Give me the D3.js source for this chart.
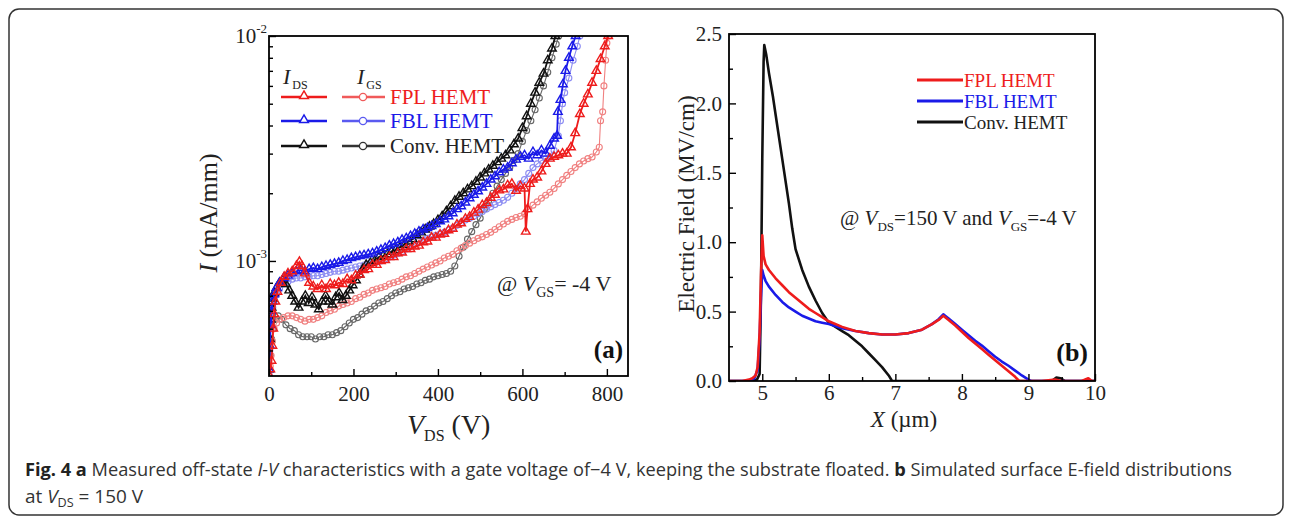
<!DOCTYPE html>
<html>
<head>
<meta charset="utf-8">
<script src="https://cdn.jsdelivr.net/npm/d3@7"></script>
<style>
  body { margin: 0; background: #fff; }
  text { font-family: "Liberation Serif", "Times New Roman", serif; }
</style>
</head>
<body>
<script>
// ---- panel (a): off-state I-V, [V_DS (V), I (x1e-3 mA/mm)] ----
var idsFPL = [[0,0.31],[3,0.33],[6,0.36],[8,0.42],[10,0.5],[12,0.58],[15,0.66],[20,0.73],[28,0.8],[36,0.85],[45,0.88],[55,0.9],[65,0.95],[72,0.99],[78,0.95],[85,0.88],[95,0.8],[105,0.77],[115,0.75],[125,0.78],[135,0.75],[145,0.79],[155,0.78],[165,0.8],[175,0.79],[185,0.83],[195,0.82],[205,0.86],[215,0.87],[225,0.91],[235,0.92],[245,0.96],[255,0.96],[265,1.0],[275,1.01],[285,1.04],[295,1.04],[305,1.08],[315,1.09],[325,1.13],[335,1.13],[345,1.16],[355,1.17],[365,1.21],[375,1.22],[385,1.27],[395,1.27],[405,1.31],[415,1.32],[425,1.37],[435,1.39],[445,1.45],[455,1.47],[465,1.54],[475,1.57],[485,1.64],[495,1.69],[505,1.77],[515,1.81],[525,1.91],[535,1.97],[545,2.06],[555,2.08],[565,2.17],[575,2.2],[585,2.05],[595,2.15],[605,2.1],[608,1.35],[612,1.7],[618,2.2],[625,2.3],[635,2.35],[645,2.5],[655,2.7],[665,2.85],[675,2.9],[685,2.95],[695,3.0],[705,3.0],[715,3.2],[725,3.7],[736,4.5],[745,5.0],[755,5.5],[765,6.2],[775,7.0],[785,7.9],[795,9.0],[803,10]];
var idsFBL = [[0,0.33],[2,0.42],[4,0.52],[6,0.6],[8,0.66],[12,0.71],[18,0.76],[25,0.8],[35,0.84],[45,0.86],[55,0.88],[65,0.9],[75,0.91],[85,0.9],[95,0.92],[105,0.93],[115,0.92],[125,0.94],[135,0.95],[145,0.96],[155,0.97],[165,0.98],[175,1.0],[185,1.01],[195,1.03],[205,1.04],[215,1.05],[225,1.06],[235,1.07],[245,1.08],[255,1.1],[265,1.12],[275,1.14],[285,1.17],[295,1.19],[305,1.21],[315,1.24],[325,1.26],[335,1.29],[345,1.32],[355,1.35],[365,1.38],[375,1.4],[385,1.43],[395,1.46],[405,1.5],[415,1.53],[425,1.58],[435,1.63],[445,1.7],[455,1.75],[465,1.82],[475,1.9],[485,1.97],[495,2.04],[505,2.12],[515,2.2],[525,2.3],[535,2.38],[545,2.48],[555,2.55],[565,2.6],[575,2.72],[585,2.82],[595,2.9],[605,2.95],[615,2.85],[625,3.05],[635,2.95],[645,3.1],[655,3.0],[665,3.25],[675,3.5],[682,3.6],[684,4.6],[690,5.2],[696,6.1],[702,7.0],[710,8.0],[718,9.0],[726,10]];
var idsConv = [[0,0.33],[2,0.45],[4,0.55],[6,0.62],[8,0.68],[12,0.72],[18,0.76],[25,0.8],[32,0.82],[40,0.79],[48,0.74],[55,0.7],[62,0.66],[70,0.62],[78,0.66],[86,0.7],[94,0.65],[102,0.69],[110,0.64],[118,0.61],[126,0.66],[134,0.7],[142,0.66],[150,0.64],[158,0.69],[166,0.72],[174,0.67],[182,0.7],[190,0.74],[198,0.78],[206,0.82],[214,0.87],[222,0.92],[230,0.96],[240,0.98],[250,1.0],[260,1.04],[270,1.05],[280,1.07],[290,1.1],[300,1.12],[310,1.15],[320,1.18],[330,1.22],[340,1.25],[350,1.3],[360,1.34],[370,1.38],[380,1.42],[390,1.46],[400,1.52],[410,1.58],[420,1.66],[430,1.75],[440,1.85],[450,1.93],[460,2.0],[470,2.08],[480,2.15],[490,2.25],[500,2.35],[510,2.45],[520,2.55],[530,2.65],[540,2.75],[550,2.85],[560,2.95],[570,3.1],[580,3.3],[590,3.5],[600,3.9],[610,4.4],[620,5.0],[630,5.6],[640,6.2],[650,6.8],[660,7.8],[670,8.8],[678,10]];
var igsFPL = [[0,0.31],[3,0.34],[5,0.38],[8,0.44],[12,0.5],[18,0.53],[25,0.55],[35,0.56],[45,0.57],[55,0.57],[65,0.56],[75,0.55],[85,0.54],[95,0.55],[105,0.55],[115,0.56],[125,0.57],[135,0.59],[145,0.6],[155,0.61],[165,0.63],[175,0.64],[185,0.65],[195,0.66],[205,0.68],[215,0.69],[225,0.71],[235,0.72],[245,0.74],[255,0.75],[265,0.76],[275,0.77],[285,0.79],[295,0.8],[305,0.81],[315,0.83],[325,0.85],[335,0.86],[345,0.88],[355,0.9],[365,0.92],[375,0.94],[385,0.96],[395,0.98],[405,1.0],[415,1.03],[425,1.05],[435,1.07],[445,1.11],[455,1.14],[465,1.17],[475,1.2],[485,1.23],[495,1.26],[505,1.28],[515,1.31],[525,1.34],[535,1.38],[545,1.42],[555,1.46],[565,1.5],[575,1.53],[585,1.56],[595,1.58],[605,1.62],[615,1.7],[625,1.77],[635,1.83],[645,1.9],[655,1.96],[665,2.02],[675,2.1],[685,2.2],[695,2.3],[705,2.4],[715,2.5],[725,2.6],[735,2.7],[745,2.78],[755,2.85],[765,2.9],[775,3.05],[782,3.2],[785,4.2],[790,4.6],[793,6.0],[797,7.8],[800,9.3],[805,10]];
var igsFBL = [[0,0.31],[2,0.4],[4,0.5],[6,0.56],[9,0.62],[13,0.67],[18,0.71],[25,0.75],[35,0.79],[45,0.81],[55,0.83],[65,0.84],[75,0.84],[85,0.85],[95,0.85],[105,0.86],[115,0.86],[125,0.87],[135,0.88],[145,0.89],[155,0.9],[165,0.9],[175,0.91],[185,0.92],[195,0.93],[205,0.94],[215,0.95],[225,0.96],[235,0.97],[245,0.98],[255,0.99],[265,1.0],[275,1.02],[285,1.04],[295,1.06],[305,1.08],[315,1.1],[325,1.13],[335,1.16],[345,1.19],[355,1.22],[365,1.24],[375,1.26],[385,1.28],[395,1.3],[405,1.32],[415,1.34],[425,1.37],[435,1.4],[445,1.44],[455,1.48],[465,1.52],[475,1.55],[485,1.58],[495,1.62],[505,1.66],[515,1.7],[525,1.74],[535,1.78],[545,1.82],[555,1.86],[565,1.92],[575,2.0],[585,2.1],[595,2.2],[605,2.3],[615,2.45],[625,2.6],[635,2.7],[645,2.8],[655,2.85],[665,2.9],[675,3.1],[685,3.6],[690,4.2],[695,5.0],[700,5.6],[710,6.5],[720,7.8],[730,9.0],[736,10]];
var igsConv = [[0,0.31],[3,0.38],[6,0.45],[10,0.5],[15,0.55],[22,0.57],[30,0.55],[40,0.52],[50,0.5],[60,0.49],[70,0.47],[80,0.46],[90,0.46],[100,0.46],[110,0.45],[120,0.46],[130,0.46],[140,0.47],[150,0.47],[160,0.48],[170,0.49],[180,0.51],[190,0.53],[200,0.55],[210,0.56],[220,0.58],[230,0.6],[240,0.61],[250,0.63],[260,0.65],[270,0.66],[280,0.68],[290,0.7],[300,0.72],[310,0.73],[320,0.75],[330,0.76],[340,0.77],[350,0.79],[360,0.8],[370,0.82],[380,0.83],[390,0.85],[400,0.86],[410,0.87],[420,0.88],[430,0.9],[440,0.95],[450,1.05],[460,1.15],[470,1.25],[480,1.35],[490,1.45],[500,1.55],[510,1.7],[520,1.85],[530,2.0],[540,2.15],[550,2.3],[560,2.45],[570,2.6],[580,2.8],[590,3.0],[600,3.4],[610,3.8],[620,4.2],[630,4.7],[640,5.3],[650,6.0],[660,6.9],[670,8.0],[680,9.2],[686,10]];
var xTicksA = [0, 200, 400, 600, 800];
var xMinorA = [100, 300, 500, 700];
var yTicksA = [1e-3, 1e-2];
var yMinorA = [4e-4, 5e-4, 6e-4, 7e-4, 8e-4, 9e-4, 2e-3, 3e-3, 4e-3, 5e-3, 6e-3, 7e-3, 8e-3, 9e-3];
var namesA = ["FPL HEMT", "FBL HEMT", "Conv. HEMT"];

// ---- panel (b): simulated E-field, [X (um), E (MV/cm)] ----
var efFPL = [[4.5,0],[4.7,0],[4.8,0.01],[4.85,0.02],[4.9,0.04],[4.93,0.1],[4.96,0.35],[4.98,0.75],[5.0,1.05],[5.02,0.9],[5.05,0.84],[5.1,0.8],[5.2,0.74],[5.3,0.69],[5.4,0.64],[5.5,0.6],[5.6,0.56],[5.7,0.52],[5.8,0.49],[5.9,0.46],[6.0,0.43],[6.2,0.39],[6.4,0.36],[6.6,0.345],[6.8,0.335],[7.0,0.335],[7.2,0.345],[7.4,0.37],[7.55,0.41],[7.65,0.44],[7.72,0.47],[7.8,0.44],[7.9,0.4],[8.0,0.355],[8.1,0.31],[8.2,0.27],[8.3,0.23],[8.4,0.19],[8.5,0.15],[8.6,0.11],[8.7,0.07],[8.8,0.03],[8.86,0],[9.0,0],[9.2,0],[9.4,0.01],[9.5,0],[9.6,0],[9.8,0],[9.9,0.02],[9.95,0],[10,0]];
var efFBL = [[4.5,0],[4.8,0],[4.88,0.02],[4.93,0.08],[4.96,0.3],[4.98,0.6],[5.0,0.8],[5.02,0.76],[5.05,0.72],[5.1,0.68],[5.2,0.62],[5.3,0.57],[5.4,0.53],[5.5,0.5],[5.6,0.47],[5.7,0.45],[5.8,0.43],[5.9,0.42],[6.0,0.41],[6.2,0.38],[6.4,0.36],[6.6,0.345],[6.8,0.335],[7.0,0.335],[7.2,0.345],[7.4,0.37],[7.55,0.41],[7.65,0.445],[7.72,0.48],[7.8,0.45],[7.9,0.41],[8.0,0.37],[8.1,0.33],[8.2,0.29],[8.3,0.255],[8.4,0.215],[8.5,0.175],[8.6,0.14],[8.7,0.11],[8.8,0.075],[8.9,0.04],[9.0,0.01],[9.04,0],[9.3,0],[10,0]];
var efConv = [[4.5,0],[4.85,0],[4.92,0.01],[4.96,0.05],[4.98,0.6],[5.0,1.6],[5.02,2.3],[5.03,2.42],[5.06,2.35],[5.1,2.22],[5.16,2.05],[5.2,1.92],[5.3,1.6],[5.4,1.28],[5.45,1.1],[5.5,0.95],[5.6,0.8],[5.7,0.68],[5.8,0.58],[5.9,0.49],[6.0,0.42],[6.1,0.39],[6.2,0.36],[6.3,0.33],[6.4,0.29],[6.5,0.25],[6.6,0.2],[6.7,0.15],[6.8,0.1],[6.9,0.04],[6.95,0],[9.35,0],[9.42,0.025],[9.48,0.02],[9.55,0],[10,0]];
var xTicksB = [5, 6, 7, 8, 9, 10];
var xMinorB = [5.5, 6.5, 7.5, 8.5, 9.5];
var yTicksB = [0, 0.5, 1.0, 1.5, 2.0, 2.5];
var yMinorB = [0.25, 0.75, 1.25, 1.75, 2.25];

var red = "#ee1c1c", blue = "#1a1ae8", black = "#111";

var svg = d3.select("body").append("svg")
  .attr("width", 1292)
  .attr("height", 517);

svg.append("rect")
  .attr("x", 9).attr("y", 9)
  .attr("width", 1274).attr("height", 506)
  .attr("rx", 10)
  .attr("fill", "none")
  .attr("stroke", "#333")
  .attr("stroke-width", 1.5);

function styleAxis(g) {
  g.select(".domain").remove();
  g.selectAll("line").attr("stroke", "#000").attr("stroke-width", 1.4);
  g.selectAll("text").attr("font-family", "Liberation Serif").attr("fill", "#222");
}

// ================= panel (a) =================
var xA = d3.scaleLinear().domain([0, 850]).range([269, 628]);
var yA = d3.scaleLog().domain([3.08e-4, 1e-2]).range([376, 36]);
var ga = svg.append("g");

ga.append("clipPath").attr("id", "clipA").append("rect")
  .attr("x", 269).attr("y", 36).attr("width", 359).attr("height", 340);

var seriesA = [
  { data: igsConv, color: "#666", mark: "circle" },
  { data: igsFPL, color: "#f08080", mark: "circle" },
  { data: igsFBL, color: "#8c8cf2", mark: "circle" },
  { data: idsConv, color: black, mark: "tri" },
  { data: idsFBL, color: blue, mark: "tri" },
  { data: idsFPL, color: red, mark: "tri" }
];

var lineA = d3.line()
  .x(function(d) { return xA(d[0]); })
  .y(function(d) { return yA(d[1] * 1e-3); });

var plotA = ga.append("g").attr("clip-path", "url(#clipA)");
var triangle = d3.symbol().type(d3.symbolTriangle).size(32);

seriesA.forEach(function(s) {
  plotA.append("path")
    .datum(s.data)
    .attr("d", lineA)
    .attr("fill", "none")
    .attr("stroke", s.color)
    .attr("stroke-width", s.mark === "tri" ? 1.8 : 1.1);
  if (s.mark === "tri") {
    plotA.selectAll(null).data(s.data).enter()
      .append("path")
      .attr("d", triangle)
      .attr("transform", function(d) { return "translate(" + xA(d[0]) + "," + yA(d[1] * 1e-3) + ")"; })
      .attr("fill", "none")
      .attr("stroke", s.color)
      .attr("stroke-width", 1.4);
  } else {
    plotA.selectAll(null).data(s.data).enter()
      .append("circle")
      .attr("cx", function(d) { return xA(d[0]); })
      .attr("cy", function(d) { return yA(d[1] * 1e-3); })
      .attr("r", 3)
      .attr("fill", "none")
      .attr("stroke", s.color)
      .attr("stroke-width", 1.1);
  }
});

ga.append("g").attr("transform", "translate(0,376)")
  .call(d3.axisBottom(xA).tickValues(xTicksA).tickSizeInner(-7).tickSizeOuter(0)
    .tickPadding(10).tickFormat(d3.format("d")))
  .call(styleAxis)
  .selectAll("text").attr("font-size", 21);
ga.append("g").attr("transform", "translate(0,376)")
  .call(d3.axisBottom(xA).tickValues(xMinorA).tickSizeInner(-4).tickSizeOuter(0).tickFormat(""))
  .call(styleAxis);
ga.append("g").attr("transform", "translate(269,0)")
  .call(d3.axisLeft(yA).tickValues(yTicksA).tickSizeInner(-7).tickSizeOuter(0).tickFormat(""))
  .call(styleAxis);
ga.append("g").attr("transform", "translate(269,0)")
  .call(d3.axisLeft(yA).tickValues(yMinorA).tickSizeInner(-4).tickSizeOuter(0).tickFormat(""))
  .call(styleAxis);

yTicksA.forEach(function(v) {
  var t = ga.append("text")
    .attr("x", 267).attr("y", yA(v) + 7)
    .attr("text-anchor", "end")
    .attr("font-size", 21).attr("fill", "#222");
  t.append("tspan").text("10");
  t.append("tspan").attr("font-size", 13).attr("dy", -10).text("-" + Math.round(-Math.log10(v)));
});

ga.append("rect")
  .attr("x", 269).attr("y", 36).attr("width", 359).attr("height", 340)
  .attr("fill", "none").attr("stroke", "#000").attr("stroke-width", 1.8);

// axis titles (a)
var ty = ga.append("text")
  .attr("transform", "translate(217,213) rotate(-90)")
  .attr("text-anchor", "middle").attr("font-size", 26).attr("fill", "#222");
ty.append("tspan").attr("font-style", "italic").text("I");
ty.append("tspan").text(" (mA/mm)");

var tx = ga.append("text")
  .attr("x", 407).attr("y", 434)
  .attr("font-size", 28).attr("fill", "#222");
tx.append("tspan").attr("font-style", "italic").text("V");
tx.append("tspan").attr("font-size", 16).attr("dy", 7).text("DS");
tx.append("tspan").attr("dy", -7).text(" (V)");

// legend (a)
[["DS", 283], ["GS", 357]].forEach(function(h) {
  var t = ga.append("text").attr("x", h[1]).attr("y", 84).attr("font-size", 22).attr("fill", "#222");
  t.append("tspan").attr("font-style", "italic").text("I");
  t.append("tspan").attr("font-size", 12).attr("dy", 5).attr("dx", 2).text(h[0]);
});

var legA = [
  { y: 97, ids: red, igs: "#f05a5a" },
  { y: 121, ids: blue, igs: "#5a5af0" },
  { y: 146, ids: black, igs: "#333" }
];
legA.forEach(function(r, i) {
  ga.append("line").attr("x1", 281).attr("x2", 327).attr("y1", r.y).attr("y2", r.y)
    .attr("stroke", r.ids).attr("stroke-width", 2.4);
  ga.append("path").attr("d", d3.symbol().type(d3.symbolTriangle).size(34))
    .attr("transform", "translate(304," + (r.y - 1) + ")")
    .attr("fill", "#fff").attr("stroke", r.ids).attr("stroke-width", 1.4);
  ga.append("line").attr("x1", 342).attr("x2", 385).attr("y1", r.y).attr("y2", r.y)
    .attr("stroke", r.igs).attr("stroke-width", 2.4);
  ga.append("circle").attr("cx", 363).attr("cy", r.y).attr("r", 3.6)
    .attr("fill", "#fff").attr("stroke", r.igs).attr("stroke-width", 1.3);
  ga.append("text").attr("x", 390).attr("y", r.y + 7)
    .attr("font-size", 21).attr("fill", i === 2 ? "#222" : r.ids)
    .text(namesA[i]);
});

var an = ga.append("text").attr("x", 497).attr("y", 291).attr("font-size", 22).attr("fill", "#222");
an.append("tspan").text("@ ");
an.append("tspan").attr("font-style", "italic").text("V");
an.append("tspan").attr("font-size", 14).attr("dy", 6).text("GS");
an.append("tspan").attr("dy", -6).text("= -4 V");

ga.append("text").attr("x", 623).attr("y", 358).attr("text-anchor", "end")
  .attr("font-size", 25).attr("font-weight", "bold").attr("fill", "#111").text("(a)");

// ================= panel (b) =================
var xB = d3.scaleLinear().domain([4.5, 10]).range([729, 1095]);
var yB = d3.scaleLinear().domain([0, 2.5]).range([381, 34]);
var gb = svg.append("g");

gb.append("clipPath").attr("id", "clipB").append("rect")
  .attr("x", 729).attr("y", 34).attr("width", 366).attr("height", 347);

var lineB = d3.line()
  .x(function(d) { return xB(d[0]); })
  .y(function(d) { return yB(d[1]); });

var plotB = gb.append("g").attr("clip-path", "url(#clipB)");
[[efConv, black], [efFBL, blue], [efFPL, red]].forEach(function(s) {
  plotB.append("path").datum(s[0])
    .attr("d", lineB)
    .attr("fill", "none")
    .attr("stroke", s[1])
    .attr("stroke-width", 2.6)
    .attr("stroke-linejoin", "round");
});

gb.append("g").attr("transform", "translate(0,381)")
  .call(d3.axisBottom(xB).tickValues(xTicksB).tickSizeInner(-7).tickSizeOuter(0)
    .tickPadding(4).tickFormat(d3.format("d")))
  .call(styleAxis)
  .selectAll("text").attr("font-size", 21);
gb.append("g").attr("transform", "translate(0,381)")
  .call(d3.axisBottom(xB).tickValues(xMinorB).tickSizeInner(-4).tickSizeOuter(0).tickFormat(""))
  .call(styleAxis);
gb.append("g").attr("transform", "translate(729,0)")
  .call(d3.axisLeft(yB).tickValues(yTicksB).tickSizeInner(-7).tickSizeOuter(0)
    .tickPadding(7).tickFormat(d3.format(".1f")))
  .call(styleAxis)
  .selectAll("text").attr("font-size", 21);
gb.append("g").attr("transform", "translate(729,0)")
  .call(d3.axisLeft(yB).tickValues(yMinorB).tickSizeInner(-4).tickSizeOuter(0).tickFormat(""))
  .call(styleAxis);

gb.append("rect")
  .attr("x", 729).attr("y", 34).attr("width", 366).attr("height", 347)
  .attr("fill", "none").attr("stroke", "#000").attr("stroke-width", 1.8);

gb.append("text")
  .attr("transform", "translate(694,204) rotate(-90)")
  .attr("text-anchor", "middle").attr("font-size", 23).attr("fill", "#222")
  .text("Electric Field (MV/cm)");

var tbx = gb.append("text").attr("x", 904).attr("y", 427)
  .attr("text-anchor", "middle").attr("font-size", 23).attr("fill", "#222");
tbx.append("tspan").attr("font-style", "italic").text("X");
tbx.append("tspan").text(" (\u00b5m)");

// legend (b)
[["FPL HEMT", red, 80], ["FBL HEMT", blue, 101], ["Conv. HEMT", black, 122]].forEach(function(r) {
  gb.append("line").attr("x1", 917).attr("x2", 963).attr("y1", r[2]).attr("y2", r[2])
    .attr("stroke", r[1]).attr("stroke-width", 3);
  gb.append("text").attr("x", 964).attr("y", r[2] + 7)
    .attr("font-size", 19).attr("fill", r[1] === black ? "#222" : r[1]).text(r[0]);
});

var bn = gb.append("text").attr("x", 840).attr("y", 225).attr("font-size", 21).attr("fill", "#222");
bn.append("tspan").text("@ ");
bn.append("tspan").attr("font-style", "italic").text("V");
bn.append("tspan").attr("font-size", 13).attr("dy", 6).text("DS");
bn.append("tspan").attr("dy", -6).text("=150 V and ");
bn.append("tspan").attr("font-style", "italic").text("V");
bn.append("tspan").attr("font-size", 13).attr("dy", 6).text("GS");
bn.append("tspan").attr("dy", -6).text("=-4 V");

gb.append("text").attr("x", 1088).attr("y", 361).attr("text-anchor", "end")
  .attr("font-size", 26).attr("font-weight", "bold").attr("fill", "#111").text("(b)");

// ================= caption =================
var cap1 = svg.append("text")
  .attr("x", 25).attr("y", 476)
  .attr("font-size", 18).attr("fill", "#333")
  .attr("textLength", 1207).attr("lengthAdjust", "spacingAndGlyphs")
  .style("font-family", "'Open Sans', sans-serif");
cap1.append("tspan").attr("font-weight", "bold").attr("fill", "#222").text("Fig. 4 a");
cap1.append("tspan").text(" Measured off-state ");
cap1.append("tspan").attr("font-style", "italic").text("I-V");
cap1.append("tspan").text(" characteristics with a gate voltage of\u22124 V, keeping the substrate floated. ");
cap1.append("tspan").attr("font-weight", "bold").attr("fill", "#222").text("b");
cap1.append("tspan").text(" Simulated surface E-field distributions");

var cap2 = svg.append("text")
  .attr("x", 25).attr("y", 503)
  .attr("font-size", 18).attr("fill", "#333")
  .attr("textLength", 118).attr("lengthAdjust", "spacingAndGlyphs")
  .style("font-family", "'Open Sans', sans-serif");
cap2.append("tspan").text("at ");
cap2.append("tspan").attr("font-style", "italic").text("V");
cap2.append("tspan").attr("font-size", 12).attr("dy", 4).text("DS");
cap2.append("tspan").attr("dy", -4).text(" = 150 V");
</script>
</body>
</html>
